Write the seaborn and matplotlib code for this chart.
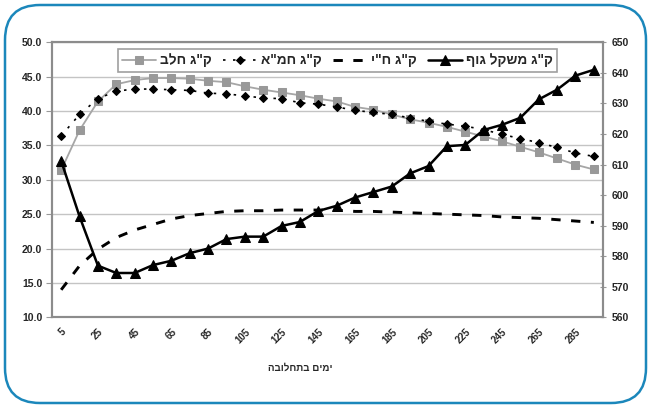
import matplotlib
matplotlib.use("Agg")
import matplotlib.pyplot as plt
import seaborn as sns
import pandas as pd
from matplotlib.patches import FancyBboxPatch
from matplotlib.transforms import IdentityTransform, ScaledTranslation

# ---------------- data ----------------
days = list(range(5, 300, 10))
milk = [31.4, 37.2, 41.4, 43.9, 44.5, 44.8, 44.8, 44.7, 44.4, 44.2,
        43.6, 43.1, 42.7, 42.3, 41.8, 41.4, 40.6, 40.2, 39.5, 38.8,
        38.3, 37.7, 37.0, 36.3, 35.6, 34.8, 34.0, 33.1, 32.2, 31.5]
fcm = [36.4, 39.5, 41.8, 42.9, 43.2, 43.2, 43.1, 43.0, 42.6, 42.5,
       42.2, 41.9, 41.8, 41.2, 41.0, 40.6, 40.1, 39.8, 39.5, 39.0,
       38.5, 38.1, 37.8, 37.3, 36.6, 36.0, 35.4, 34.7, 33.9, 33.4]
dm = [14.0, 17.5, 19.9, 21.6, 22.7, 23.5, 24.3, 24.8, 25.1, 25.4,
      25.5, 25.5, 25.6, 25.6, 25.6, 25.6, 25.4, 25.4, 25.3, 25.2,
      25.1, 25.0, 24.9, 24.8, 24.6, 24.5, 24.4, 24.2, 24.0, 23.8]
bw = [611.2, 593.0, 576.9, 574.5, 574.5, 577.1, 578.5, 581.0, 582.5, 585.6,
      586.4, 586.4, 589.9, 591.2, 594.8, 596.5, 599.2, 601.0, 602.8, 607.1,
      609.5, 616.0, 616.4, 621.3, 623.0, 625.3, 631.3, 634.5, 639.1, 641.0]

left_ticks = [10, 15, 20, 25, 30, 35, 40, 45, 50]
right_ticks = [560, 570, 580, 590, 600, 610, 620, 630, 640, 650]
x_label_days = days[::2]

lbl_milk = 'ק"ג חלב'
lbl_fcm = 'ק"ג חמ"א'
lbl_dm = 'ק"ג ח"י'
lbl_bw = 'ק"ג משקל גוף'
x_title = 'ימים בתחלובה'


def vis(s):
    # matplotlib has no bidi support: reverse Hebrew for visual order
    return s[::-1]


df = pd.DataFrame({"day": days, "milk": milk, "fcm": fcm, "dm": dm, "bw": bw})

sns.set_style("white")
plt.rcParams['font.family'] = ['Liberation Sans', 'DejaVu Sans']
plt.rcParams['font.weight'] = 'bold'

fig = plt.figure(figsize=(6.5, 4.05), dpi=100)
ax = fig.add_axes([52 / 650, 1 - 317.3 / 405, 551 / 650, 275 / 405])
ax2 = ax.twinx()

sns.lineplot(data=df, x="day", y="milk", ax=ax, color="#a6a6a6", lw=1.3,
             marker="s", markersize=5.8, markerfacecolor="#999999",
             markeredgecolor="#999999", label=vis(lbl_milk), legend=False)
sns.lineplot(data=df, x="day", y="fcm", ax=ax, color="black", lw=1.2,
             linestyle=(0, (1.5, 4.5)), marker="D", markersize=3.8,
             markerfacecolor="black", markeredgecolor="black",
             label=vis(lbl_fcm), legend=False)
sns.lineplot(data=df, x="day", y="dm", ax=ax, color="black", lw=2.1,
             linestyle=(0, (3.2, 3.6)), label=vis(lbl_dm), legend=False)
sns.lineplot(data=df, x="day", y="bw", ax=ax2, color="black", lw=1.8,
             marker="^", markersize=6.8, markerfacecolor="black",
             markeredgecolor="black", label=vis(lbl_bw), legend=False)

# axes limits and ticks
ax.set_xlim(0, 300)
ax.set_ylim(10, 50)
ax2.set_ylim(560, 650)
ax.set_yticks(left_ticks)
ax.set_yticklabels([f"{v:.1f}" for v in left_ticks], fontsize=7.5, fontweight='bold')
ax2.set_yticks(right_ticks)
ax2.set_yticklabels([str(v) for v in right_ticks], fontsize=7.5, fontweight='bold')

ax.set_xticks(x_label_days)
ax.set_xticklabels([str(d) for d in x_label_days], rotation=45, ha='right',
                   rotation_mode='anchor', fontsize=7, fontweight='bold')
shift = ScaledTranslation(-4 / 100, 0, fig.dpi_scale_trans)
for t in ax.get_xticklabels():
    t.set_transform(t.get_transform() + shift)
ax.set_xticks(list(range(0, 301, 10)), minor=True)
ax.tick_params(axis='x', which='major', length=0, pad=7)
ax.tick_params(axis='x', which='minor', length=4, direction='inout',
               color='#999999', width=0.8)
ax.tick_params(axis='y', length=4, direction='out', color='#999999', width=0.8, pad=3)
ax2.tick_params(axis='y', length=4, direction='inout', color='#999999', width=0.8, pad=4)

ax.set_xlabel("")
ax.set_ylabel("")
ax2.set_ylabel("")

ax.yaxis.grid(True, color='#c4c4c4', lw=1.0)
ax.xaxis.grid(False)
ax.set_axisbelow(True)

for a in (ax, ax2):
    for s in a.spines.values():
        s.set_color('#8c8c8c')
        s.set_linewidth(1.5)
        s.set_visible(True)

# legend
h1, l1 = ax.get_legend_handles_labels()
h2, l2 = ax2.get_legend_handles_labels()
leg = ax2.legend(h1 + h2, l1 + l2, ncol=4, loc='center',
                 bbox_to_anchor=(0.518, 0.934), frameon=True, fancybox=False,
                 edgecolor='#a0a0a0', framealpha=1,
                 prop={'weight': 'bold', 'size': 9.8},
                 handlelength=2.5, handletextpad=0.3, columnspacing=0.8,
                 borderpad=0.3)
leg.get_frame().set_linewidth(1.2)

fig.text(300 / 650, 1 - 368 / 405, vis(x_title), ha='center', va='center',
         fontsize=7, fontweight='bold')

# rounded blue frame
frame = FancyBboxPatch((5, 2), 641, 398, boxstyle='round,pad=0,rounding_size=35',
                       transform=IdentityTransform(), fill=False,
                       edgecolor='#1b87bb', lw=1.8)
fig.patches.append(frame)

fig.savefig("out.png", dpi=100)
